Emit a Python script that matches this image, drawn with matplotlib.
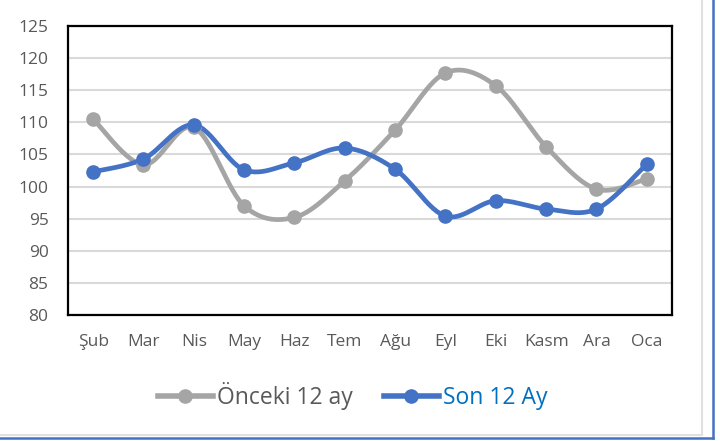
import numpy as np
import matplotlib
matplotlib.use("Agg")
import matplotlib.pyplot as plt
from matplotlib.lines import Line2D

plt.rcParams['font.family'] = ['Open Sans', 'DejaVu Sans']

months = ['Şub', 'Mar', 'Nis', 'May', 'Haz', 'Tem', 'Ağu', 'Eyl', 'Eki', 'Kasm', 'Ara', 'Oca']
onceki = [110.5, 103.4, 109.2, 97.0, 95.2, 100.9, 108.8, 117.7, 115.7, 106.2, 99.6, 101.2]
son = [102.3, 104.3, 109.6, 102.6, 103.7, 106.0, 102.7, 95.4, 97.8, 96.5, 96.5, 103.5]

GREY = '#A5A5A5'
BLUE = '#4472C4'
TXT = '#595959'


def smooth(x, y, n=30):
    # excel style smoothing: bezier segments with catmull-rom control points
    x = np.asarray(x, float)
    y = np.asarray(y, float)
    px = np.concatenate([[x[0]], x, [x[-1]]])
    py = np.concatenate([[y[0]], y, [y[-1]]])
    t = np.linspace(0, 1, n)[:, None]
    xs, ys = [], []
    for i in range(1, len(px) - 2):
        p0 = np.array([px[i], py[i]])
        p3 = np.array([px[i + 1], py[i + 1]])
        c1 = p0 + (np.array([px[i + 1], py[i + 1]]) - np.array([px[i - 1], py[i - 1]])) / 6
        c2 = p3 - (np.array([px[i + 2], py[i + 2]]) - np.array([px[i], py[i]])) / 6
        b = ((1 - t) ** 3) * p0 + 3 * ((1 - t) ** 2) * t * c1 + 3 * (1 - t) * t ** 2 * c2 + t ** 3 * p3
        xs.append(b[:, 0])
        ys.append(b[:, 1])
    return np.concatenate(xs), np.concatenate(ys)


fig = plt.figure(figsize=(7.2, 4.41), dpi=100)
ax = fig.add_axes([0.0944, 0.2857, 0.8389, 0.6553])

xpos = np.arange(len(months))
for vals, col, lab in [(onceki, GREY, 'Önceki 12 ay'), (son, BLUE, 'Son 12 Ay')]:
    sx, sy = smooth(xpos, vals)
    ax.plot(sx, sy, color=col, lw=3.4, solid_capstyle='round', zorder=3)
    ax.plot(xpos, vals, 'o', color=col, ms=9.5, zorder=4)

ax.set_xlim(-0.5, len(months) - 0.5)
ax.set_ylim(80, 125)
ax.set_yticks(np.arange(80, 126, 5))
ax.set_xticks(xpos)
ax.set_xticklabels(months)
ax.tick_params(length=0, labelsize=12.5, colors=TXT)
ax.tick_params(axis='y', pad=14)
ax.tick_params(axis='x', pad=14)
ax.grid(axis='y', color='#D9D9D9', lw=1.5)
ax.set_axisbelow(True)
for s in ax.spines.values():
    s.set_color('black')
    s.set_linewidth(1.6)

handles = [Line2D([], [], color=GREY, lw=4, marker='o', ms=9.5),
           Line2D([], [], color=BLUE, lw=4, marker='o', ms=9.5)]
leg = fig.legend(handles, ['Önceki 12 ay', 'Son 12 Ay'], loc='center',
                 bbox_to_anchor=(0.49, 0.102), ncol=2, frameon=False,
                 fontsize=16.5, handlelength=2.4, handletextpad=0.2, columnspacing=1.35)
leg.get_texts()[0].set_color(TXT)
leg.get_texts()[1].set_color('#0070C0')

# outer frame on right and bottom
fig.add_artist(Line2D([702 / 720, 702 / 720], [1 - 435 / 441, 1], color='#E0E0E0', lw=1.5))
fig.add_artist(Line2D([0, 702 / 720], [1 - 435 / 441, 1 - 435 / 441], color='#E0E0E0', lw=1.5))
fig.add_artist(Line2D([712.5 / 720, 712.5 / 720], [1 - 438 / 441, 1], color=BLUE, lw=1.8))
fig.add_artist(Line2D([0, 712.5 / 720], [1 - 438 / 441, 1 - 438 / 441], color=BLUE, lw=1.8))

fig.savefig('out.png', dpi=100)
